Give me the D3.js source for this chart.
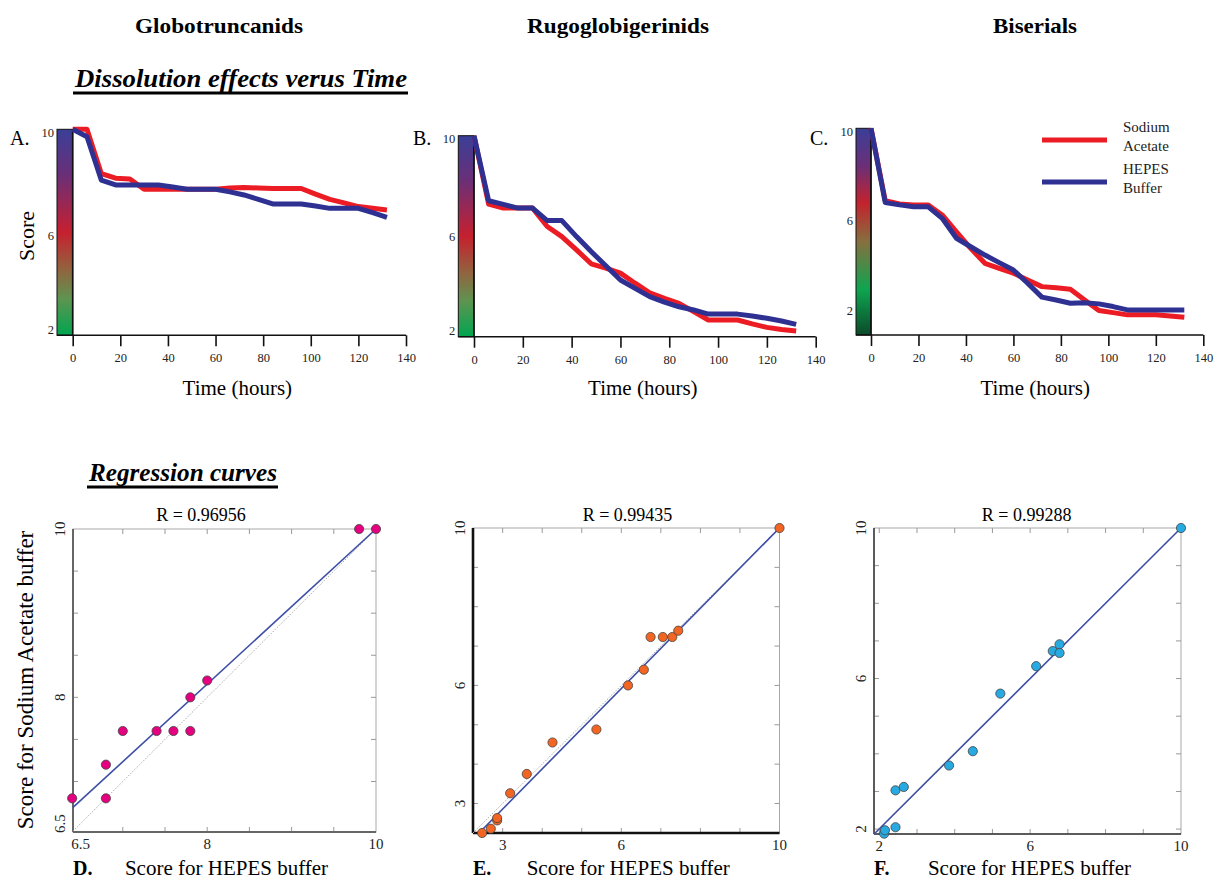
<!DOCTYPE html>
<html>
<head>
<meta charset="utf-8">
<script src="https://cdn.jsdelivr.net/npm/d3@7"></script>
<style>
  body { margin: 0; background: #fff; }
  svg, svg text { font-family: "Liberation Serif", "Times New Roman", serif; }
</style>
</head>
<body>
<svg id="chart" width="1220" height="880"></svg>
<script>
// ---- data ----
const timeHours = [0, 6, 12, 18, 24, 30, 36, 42, 48, 54, 60, 66, 72, 78, 84, 90, 96, 102, 108, 114, 120, 126, 132];
const timeTicks = [0, 20, 40, 60, 80, 100, 120, 140];

const globoAcetate = [10, 10, 8.28, 8.1, 8.07, 7.67, 7.67, 7.67, 7.67, 7.67, 7.67, 7.72, 7.74, 7.72, 7.7, 7.7, 7.7, 7.48, 7.28, 7.14, 7.0, 6.93, 6.87];
const globoHepes   = [10, 9.71, 8.03, 7.84, 7.84, 7.84, 7.84, 7.76, 7.67, 7.67, 7.67, 7.57, 7.45, 7.28, 7.1, 7.1, 7.1, 7.02, 6.93, 6.93, 6.93, 6.76, 6.58];
const rugoAcetate  = [10, 7.21, 7.05, 7.05, 7.05, 6.3, 5.89, 5.35, 4.78, 4.6, 4.4, 3.99, 3.6, 3.37, 3.17, 2.83, 2.49, 2.49, 2.49, 2.33, 2.19, 2.1, 2.04];
const rugoHepes    = [10, 7.35, 7.2, 7.05, 7.05, 6.54, 6.54, 5.89, 5.28, 4.7, 4.12, 3.78, 3.44, 3.22, 3.03, 2.9, 2.73, 2.73, 2.73, 2.65, 2.56, 2.45, 2.31];
const biserAcetate = [10, 6.77, 6.62, 6.58, 6.58, 6.13, 5.38, 4.64, 3.97, 3.75, 3.53, 3.23, 2.93, 2.88, 2.81, 2.33, 1.86, 1.77, 1.67, 1.67, 1.67, 1.62, 1.56];
const biserHepes   = [10, 6.68, 6.58, 6.5, 6.5, 5.98, 5.09, 4.71, 4.34, 4.0, 3.67, 3.08, 2.46, 2.33, 2.19, 2.21, 2.16, 2.04, 1.89, 1.89, 1.89, 1.89, 1.89];

const seriesNames = [["Sodium", "Acetate"], ["HEPES", "Buffer"]];
const groupNames = ["Globotruncanids", "Rugoglobigerinids", "Biserials"];
const scoreTicks = [2, 6, 10];

const globoHepesScore   = [9.8, 10, 8.0, 7.8, 7.0, 7.4, 7.6, 7.8, 6.8, 6.8, 6.4];
const globoAcetateScore = [10, 10, 8.2, 8.0, 7.6, 7.6, 7.6, 7.6, 7.2, 6.8, 6.8];
const rugoHepesScore    = [2.48, 2.7, 2.86, 2.86, 3.19, 3.61, 4.26, 5.37, 6.17, 6.57, 6.74, 7.05, 7.29, 7.44, 10];
const rugoAcetateScore  = [2.25, 2.36, 2.57, 2.63, 3.26, 3.75, 4.55, 4.88, 6.0, 6.4, 7.23, 7.23, 7.23, 7.39, 10];
const biserHepesScore   = [2.13, 2.15, 2.43, 2.43, 2.65, 3.85, 4.48, 5.21, 6.16, 6.6, 6.78, 6.78, 10];
const biserAcetateScore = [1.88, 1.97, 2.05, 3.03, 3.12, 3.69, 4.07, 5.6, 6.33, 6.73, 6.91, 6.68, 10];
const rValues = ["R = 0.96956", "R = 0.99435", "R = 0.99288"];

const RED = "#ec1c24", BLUE = "#2e3192";
const SERIF = "Liberation Serif, Times New Roman, serif";

const svg = d3.select("#chart").attr("font-family", SERIF);

// ---- gradients for the score bars ----
const defs = svg.append("defs");
function addGradient(id, stops) {
  const gr = defs.append("linearGradient").attr("id", id)
    .attr("x1", 0).attr("y1", 0).attr("x2", 0).attr("y2", 1);
  stops.forEach(s => gr.append("stop").attr("offset", s[0]).attr("stop-color", s[1]));
}
addGradient("gradAB", [[0, "#3a3f98"], [0.22, "#6a2f78"], [0.5, "#c6202f"], [0.68, "#92633e"], [0.82, "#5f9350"], [1, "#00a651"]]);
addGradient("gradC", [[0, "#3a3f98"], [0.18, "#6a2f78"], [0.36, "#c3222e"], [0.55, "#86703f"], [0.78, "#0ea550"], [1, "#0c4a2a"]]);

// ---- headings ----
const groupCentres = [219, 618, 1035];
const groupWidths = [168, 182, 84];
svg.selectAll("text.group").data(groupNames).join("text")
  .attr("class", "group")
  .attr("x", (d, i) => groupCentres[i]).attr("y", 33)
  .attr("text-anchor", "middle")
  .attr("font-size", "22px").attr("font-weight", "bold")
  .attr("textLength", (d, i) => groupWidths[i]).attr("lengthAdjust", "spacingAndGlyphs")
  .text(d => d);

function sectionTitle(text, x, y, width) {
  svg.append("text").attr("x", x).attr("y", y)
    .attr("font-size", "25px").attr("font-weight", "bold").attr("font-style", "italic")
    .attr("textLength", width).attr("lengthAdjust", "spacingAndGlyphs")
    .text(text);
  svg.append("line").attr("x1", x - 2).attr("x2", x + width + 1).attr("y1", y + 6).attr("y2", y + 6)
    .attr("stroke", "#000").attr("stroke-width", 3);
}
sectionTitle("Dissolution effects verus Time", 75, 87, 332);
sectionTitle("Regression curves", 89, 481, 188);

// ---- time panels ----
const timePanels = [
  { letter: "A.", letterX: 10, acetate: globoAcetate, hepes: globoHepes, barLeft: 57, x0: 72.7, x140: 406, top: 129.3, bottom: 335.3, yMin: 2.0, grad: "gradAB" },
  { letter: "B.", letterX: 413, acetate: rugoAcetate, hepes: rugoHepes, barLeft: 458.3, x0: 474, x140: 815.7, top: 135.7, bottom: 336.7, yMin: 1.81, grad: "gradAB" },
  { letter: "C.", letterX: 810, acetate: biserAcetate, hepes: biserHepes, barLeft: 856, x0: 871, x140: 1203.3, top: 128.3, bottom: 335, yMin: 0.77, grad: "gradC" }
];

timePanels.forEach((p, k) => {
  const g = svg.append("g");
  const x = d3.scaleLinear().domain([0, 140]).range([p.x0, p.x140]);
  const y = d3.scaleLinear().domain([p.yMin, 10]).range([p.bottom, p.top]);

  g.append("rect")
    .attr("x", p.barLeft).attr("y", p.top)
    .attr("width", p.x0 - p.barLeft).attr("height", p.bottom - p.top)
    .attr("fill", `url(#${p.grad})`)
    .attr("stroke", "#111").attr("stroke-width", 1);

  const ax = g.append("g").attr("transform", `translate(0,${p.bottom})`)
    .call(d3.axisBottom(x).tickValues(timeTicks).tickSize(11).tickSizeOuter(0).tickPadding(7));
  ax.attr("font-family", SERIF);
  ax.select(".domain").remove();
  ax.selectAll(".tick line").attr("stroke", "#111").attr("stroke-width", 1.6);
  ax.selectAll(".tick text").attr("font-size", "12.5px").attr("fill", "#222");

  g.append("line").attr("x1", p.barLeft).attr("x2", p.x140)
    .attr("y1", p.bottom).attr("y2", p.bottom)
    .attr("stroke", "#111").attr("stroke-width", 1.6);
  g.append("line").attr("x1", p.x0).attr("x2", p.x0)
    .attr("y1", p.top).attr("y2", p.bottom)
    .attr("stroke", "#111").attr("stroke-width", 1.6);

  g.selectAll("text.ytick").data(scoreTicks).join("text")
    .attr("class", "ytick")
    .attr("x", p.barLeft - 3)
    .attr("y", d => Math.min(y(d) + 3, p.bottom - 6))
    .attr("dy", "0.35em")
    .attr("text-anchor", "end")
    .attr("font-size", "12.5px").attr("fill", "#222")
    .text(d => d);

  const line = d3.line().x((d, i) => x(timeHours[i])).y(d => y(d));
  [[p.acetate, RED], [p.hepes, BLUE]].forEach(([vals, col]) => {
    g.append("path").datum(vals)
      .attr("d", line)
      .attr("fill", "none")
      .attr("stroke", col)
      .attr("stroke-width", 5)
      .attr("stroke-linejoin", "round");
  });

  g.append("text").attr("x", p.letterX).attr("y", 145)
    .attr("font-size", "20px").text(p.letter);

  g.append("text")
    .attr("x", (p.x0 + p.x140) / 2 - 2).attr("y", 395)
    .attr("text-anchor", "middle").attr("font-size", "21px")
    .text("Time (hours)");

  if (k === 0) {
    g.append("text")
      .attr("transform", "translate(26,236) rotate(-90)")
      .attr("dy", "0.35em")
      .attr("text-anchor", "middle").attr("font-size", "22px")
      .text("Score");
  }

  if (k === 2) {
    const leg = g.append("g");
    [RED, BLUE].forEach((col, i) => {
      const ly = 140 + i * 42;
      leg.append("line").attr("x1", 1042).attr("x2", 1107)
        .attr("y1", ly).attr("y2", ly)
        .attr("stroke", col).attr("stroke-width", 5);
      seriesNames[i].forEach((t, j) => {
        leg.append("text").attr("x", 1123).attr("y", ly - 13 + j * 19 + 5)
          .attr("font-size", "15px").attr("fill", "#222").text(t);
      });
    });
  }
});

// ---- regression panels ----
const regPanels = [
  { letter: "D.", hepes: globoHepesScore, acetate: globoAcetateScore, fill: "#e4007f",
    left: 73, right: 376, top: 529, bottom: 832, xDom: [6.41, 10], yDom: [6.4, 10],
    labels: [6.5, 8, 10], minor: [7, 7.5, 8, 8.5, 9, 9.5], rX: 201,
    axisColor: "#666", axisWidth: 2 },
  { letter: "E.", hepes: rugoHepesScore, acetate: rugoAcetateScore, fill: "#f26522",
    left: 473, right: 779.5, top: 528, bottom: 833, xDom: [2.25, 10], yDom: [2.25, 10],
    labels: [3, 6, 10], minor: [3, 4, 5, 6, 7, 8, 9], rX: 627.5,
    axisColor: "#111", axisWidth: 2.6 },
  { letter: "F.", hepes: biserHepesScore, acetate: biserAcetateScore, fill: "#27a9e1",
    left: 874, right: 1181, top: 528, bottom: 834, xDom: [1.86, 10], yDom: [1.87, 10],
    labels: [2, 6, 10], minor: [2, 3, 4, 5, 6, 7, 8, 9], rX: 1026.7,
    axisColor: "#333", axisWidth: 1.5 }
];

function leastSquares(xs, ys) {
  const mx = d3.mean(xs), my = d3.mean(ys);
  let sxy = 0, sxx = 0;
  xs.forEach((v, i) => { sxy += (v - mx) * (ys[i] - my); sxx += (v - mx) * (v - mx); });
  const slope = sxy / sxx;
  return { slope, intercept: my - slope * mx };
}

regPanels.forEach((p, k) => {
  const g = svg.append("g");
  const x = d3.scaleLinear().domain(p.xDom).range([p.left, p.right]);
  const y = d3.scaleLinear().domain(p.yDom).range([p.bottom, p.top]);

  g.append("rect").attr("x", p.left).attr("y", p.top)
    .attr("width", p.right - p.left).attr("height", p.bottom - p.top)
    .attr("fill", "none").attr("stroke", "#a8a8a8").attr("stroke-width", 1);

  // small inner ticks on all sides
  p.minor.forEach(v => {
    [[x(v), p.top, x(v), p.top + 5], [x(v), p.bottom, x(v), p.bottom - 5],
     [p.right, y(v), p.right - 5, y(v)], [p.left, y(v), p.left + 5, y(v)]].forEach(c => {
      g.append("line").attr("x1", c[0]).attr("y1", c[1]).attr("x2", c[2]).attr("y2", c[3])
        .attr("stroke", "#999").attr("stroke-width", 1);
    });
  });

  g.append("line").attr("x1", p.left).attr("x2", p.left).attr("y1", p.top).attr("y2", p.bottom)
    .attr("stroke", p.axisColor).attr("stroke-width", p.axisWidth);
  g.append("line").attr("x1", p.left).attr("x2", p.right).attr("y1", p.bottom).attr("y2", p.bottom)
    .attr("stroke", p.axisColor).attr("stroke-width", p.axisWidth);

  // identity line
  const lo = Math.max(p.xDom[0], p.yDom[0]);
  g.append("line").attr("x1", x(lo)).attr("y1", y(lo)).attr("x2", x(10)).attr("y2", y(10))
    .attr("stroke", "#aaa").attr("stroke-width", 1).attr("stroke-dasharray", "1.5,1.5");

  // regression line
  const fit = leastSquares(p.hepes, p.acetate);
  let xa = p.xDom[0];
  if (fit.slope * xa + fit.intercept < p.yDom[0]) xa = (p.yDom[0] - fit.intercept) / fit.slope;
  const xb = 10;
  g.append("line")
    .attr("x1", x(xa)).attr("y1", y(fit.slope * xa + fit.intercept))
    .attr("x2", x(xb)).attr("y2", y(Math.min(p.yDom[1], fit.slope * xb + fit.intercept)))
    .attr("stroke", "#3d4ea6").attr("stroke-width", 1.6);

  g.selectAll("circle").data(p.hepes).join("circle")
    .attr("cx", d => x(d))
    .attr("cy", (d, i) => y(p.acetate[i]))
    .attr("r", 4.6)
    .attr("fill", p.fill)
    .attr("stroke", "#444").attr("stroke-width", 0.8);

  // tick labels
  g.selectAll("text.xl").data(p.labels).join("text")
    .attr("class", "xl")
    .attr("x", d => x(d)).attr("y", p.bottom + 17)
    .attr("text-anchor", "middle").attr("font-size", "15px").attr("fill", "#222")
    .text(d => d);
  g.selectAll("text.yl").data(p.labels).join("text")
    .attr("class", "yl")
    .attr("transform", d => `translate(${p.left - 13},${y(d)}) rotate(-90)`)
    .attr("dy", "0.35em")
    .attr("text-anchor", "middle").attr("font-size", "15px").attr("fill", "#222")
    .text(d => d);

  g.append("text").attr("x", p.rX).attr("y", 521)
    .attr("text-anchor", "middle").attr("font-size", "18px")
    .text(rValues[k]);

  g.append("text").attr("x", p.left).attr("y", 875)
    .attr("font-size", "20px").attr("font-weight", "bold").text(p.letter);
  g.append("text").attr("x", (p.left + p.right) / 2 + 2).attr("y", 875)
    .attr("text-anchor", "middle").attr("font-size", "21px")
    .text("Score for HEPES buffer");

  if (k === 0) {
    g.append("text")
      .attr("transform", "translate(25,680) rotate(-90)")
      .attr("dy", "0.35em")
      .attr("text-anchor", "middle").attr("font-size", "23px")
      .text("Score for Sodium Acetate buffer");
  }
});
</script>
</body>
</html>
